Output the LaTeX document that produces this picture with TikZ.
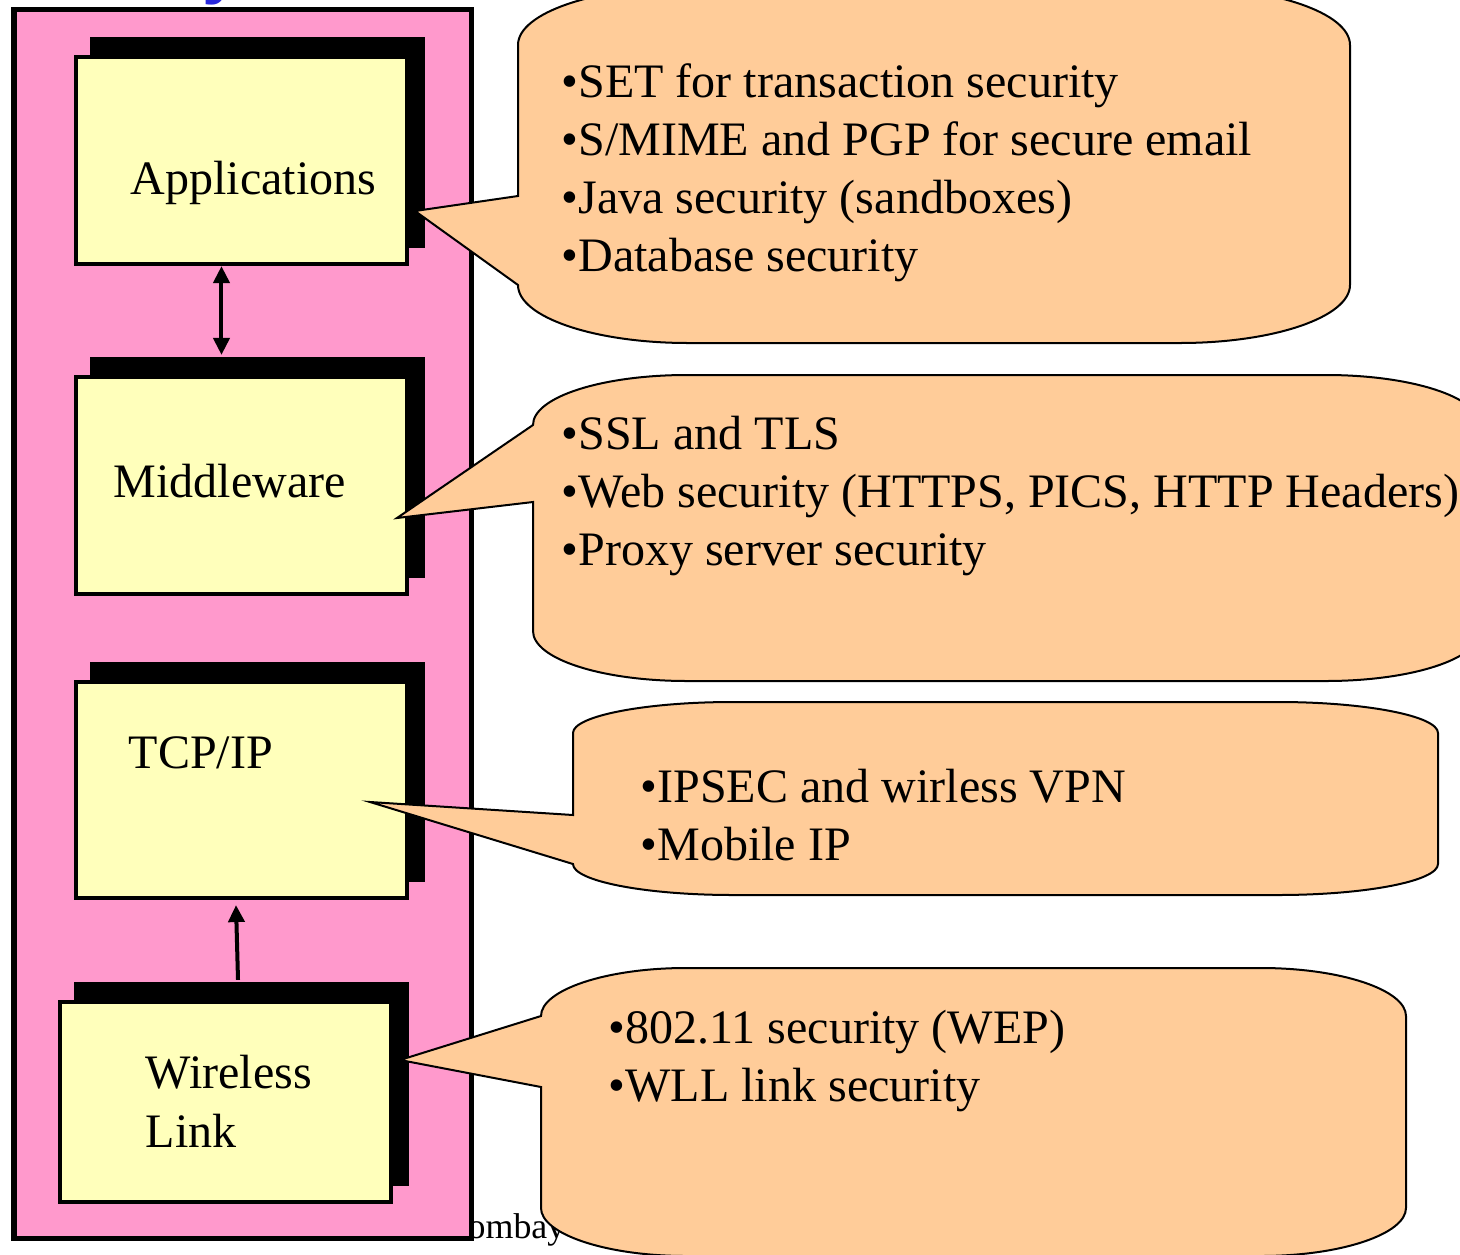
\documentclass[tikz,border=0pt]{standalone}
\usepackage{fontspec}
\setmainfont{Liberation Serif}
\newfontfamily\titlefont{Liberation Sans}
\usepackage{tikz}
\usetikzlibrary{arrows.meta, shadows}
\definecolor{layerpink}{RGB}{255,153,204}
\definecolor{layeryellow}{RGB}{255,255,187}
\definecolor{calloutorange}{RGB}{255,204,153}
\definecolor{titleblue}{RGB}{40,40,220}
\tikzset{
  stack/.style={
    draw=black, line width=0.05cm, fill=layerpink
  },
  layer/.style={
    rectangle, draw=black, fill=layeryellow, line width=0.04cm,
    minimum width=3.31cm, inner sep=0pt,
    general shadow={fill=black, draw=black, shadow xshift=0.16cm, shadow yshift=0.18cm}
  },
  layertext/.style={
    anchor=base west, inner sep=0pt, align=left,
    font=\fontsize{13.66}{16.5}\selectfont
  },
  callout/.style={
    draw=black, line width=0.02cm, fill=calloutorange
  },
  bullets/.style={
    anchor=base west, inner sep=0pt, align=left,
    font=\fontsize{13.66}{16.4}\selectfont
  },
  arrow/.style={line width=0.04cm, >={Triangle[length=0.17cm, width=0.16cm]}},
}

\begin{document}
\begin{tikzpicture}[x=0.01cm, y=-0.01cm]
  \useasboundingbox (0,0) rectangle (1460,1254);
  \clip (0,0) rectangle (1460,1254);

  % cut-off title and footer
  \node (title)  [anchor=base, inner sep=0pt, text=titleblue, font=\fontsize{20}{24}\selectfont\titlefont\bfseries] at (222,-10) {y};
  \node (footer) [anchor=base east, inner sep=0pt, font=\fontsize{10.2}{12}\selectfont] at (566,1238) {Bombay};

  % protocol stack
  \draw [stack] (14,9) rectangle (471,1238);

  \node (apps) [layer, minimum height=2.07cm] at (241.5,160.5) {};
  \node (mid)  [layer, minimum height=2.17cm] at (241.5,485.5) {};
  \node (tcp)  [layer, minimum height=2.16cm] at (241.5,790) {};
  \node (wl)   [layer, minimum height=2.00cm] at (225.5,1102) {};

  % anchors sit on the last baseline
  \node (apptxt) [layertext] at (130,194)  {Applications};
  \node (midtxt) [layertext] at (113,497)  {Middleware};
  \node (tcptxt) [layertext] at (128,768)  {TCP/IP};
  \node (wltxt)  [layertext] at (145,1147) {Wireless\\Link};

  \draw [arrow, <->] ([xshift=-0.2cm]apps.south) -- ([xshift=-0.2cm, yshift=0.2cm]mid.north);
  \draw [arrow, ->]  ([xshift=0.125cm, yshift=0.2cm]wl.north) -- ([xshift=-0.055cm, yshift=-0.05cm]tcp.south);

  % callouts
  \coordinate (appstip) at (415,211);
  \coordinate (midtip)  at (397,518);
  \coordinate (tcptip)  at (370,802);
  \coordinate (wltip)   at (400,1060);

  \draw [callout] (518,196) -- (appstip) -- (518,285)
    .. controls (518,317) and (594,343) .. (688,343) -- (1180,343)
    .. controls (1274,343) and (1350,317) .. (1350,285) -- (1350,45)
    .. controls (1350,13) and (1274,-13) .. (1180,-13) -- (688,-13)
    .. controls (594,-13) and (518,13) .. (518,45) -- cycle;

  \draw [callout] (533,425) -- (midtip) -- (533,502) -- (533,631)
    .. controls (533,659) and (602,681) .. (687,681) -- (1326,681)
    .. controls (1411,681) and (1480,659) .. (1480,631) -- (1480,425)
    .. controls (1480,397) and (1411,375) .. (1326,375) -- (687,375)
    .. controls (602,375) and (533,397) .. (533,425) -- cycle;

  \draw [callout] (573,815) -- (tcptip) -- (573,864)
    .. controls (573,881) and (645,895) .. (733,895) -- (1278,895)
    .. controls (1366,895) and (1438,881) .. (1438,864) -- (1438,733)
    .. controls (1438,716) and (1366,702) .. (1278,702) -- (733,702)
    .. controls (645,702) and (573,716) .. (573,733) -- cycle;

  \draw [callout] (541,1016) -- (wltip) -- (541,1087) -- (541,1208)
    .. controls (541,1234) and (606,1256) .. (686,1256) -- (1261,1256)
    .. controls (1341,1256) and (1406,1234) .. (1406,1208) -- (1406,1016)
    .. controls (1406,990) and (1341,968) .. (1261,968) -- (686,968)
    .. controls (606,968) and (541,990) .. (541,1016) -- cycle;

  \node (appsec) [bullets] at (561,271)
    {•SET for transaction security\\•S/MIME and PGP for secure email\\•Java security (sandboxes)\\•Database security};
  \node (midsec) [bullets] at (561,565)
    {•SSL and TLS\\•Web security (HTTPS, PICS, HTTP Headers)\\•Proxy server security};
  \node (tcpsec) [bullets] at (640,860)
    {•IPSEC and wirless VPN\\•Mobile IP};
  \node (wlsec)  [bullets] at (608,1101)
    {•802.11 security (WEP)\\•WLL link security};
\end{tikzpicture}
\end{document}
